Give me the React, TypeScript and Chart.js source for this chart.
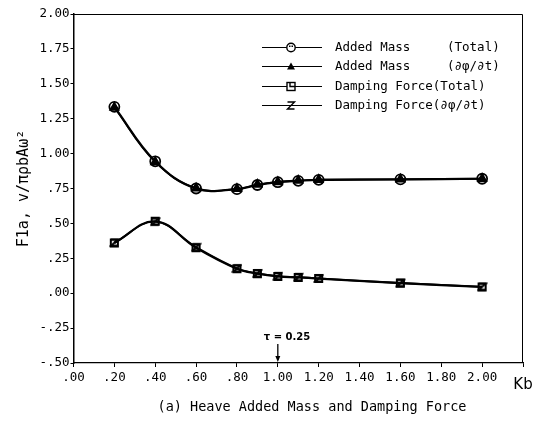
import React, { useEffect, useRef } from "react";
import { Chart, registerables } from "chart.js";

Chart.register(...registerables);

// Kb values (x)
const kb = [0.2, 0.4, 0.6, 0.8, 0.9, 1.0, 1.1, 1.2, 1.6, 2.0];
// Added mass
const addedMassTotal = [1.335, 0.945, 0.75, 0.745, 0.775, 0.795, 0.805, 0.812, 0.815, 0.82];
const addedMassDphi = [1.33, 0.94, 0.752, 0.748, 0.778, 0.797, 0.807, 0.813, 0.816, 0.82];
// Damping force
const dampingTotal = [0.36, 0.515, 0.325, 0.175, 0.14, 0.12, 0.113, 0.105, 0.072, 0.045];
const dampingDphi = [0.362, 0.512, 0.33, 0.178, 0.142, 0.122, 0.115, 0.106, 0.073, 0.046];

const legendLabels = [
  ["Added Mass", "(Total)"],
  ["Added Mass", "(∂φ/∂t)"],
  ["Damping Force(Total)", ""],
  ["Damping Force(∂φ/∂t)", ""],
];
const yTitle = "F1a, v/πρbAω²";
const xUnit = "Kb";
const caption = "(a) Heave Added Mass and Damping Force";
const tauText = "τ = 0.25";
const tauAt = 1.0;

function fmt(v: number): string {
  const s = Math.abs(v).toFixed(2).replace(/^0\./, ".");
  return (v < -1e-9 ? "-" : "") + s;
}

function makeZ(): HTMLCanvasElement {
  const c = document.createElement("canvas");
  c.width = 11;
  c.height = 11;
  const g = c.getContext("2d")!;
  g.strokeStyle = "#000";
  g.lineWidth = 2;
  g.beginPath();
  g.moveTo(2, 2.5);
  g.lineTo(9, 2.5);
  g.lineTo(2, 8.5);
  g.lineTo(9, 8.5);
  g.stroke();
  return c;
}

const MONO = "'DejaVu Sans Mono', monospace";

function drawMarker(ctx: CanvasRenderingContext2D, kind: number, x: number, y: number) {
  ctx.save();
  ctx.strokeStyle = "#000";
  ctx.fillStyle = "#000";
  ctx.lineWidth = 1.4;
  if (kind === 0) {
    ctx.beginPath();
    ctx.arc(x, y, 4.2, 0, Math.PI * 2);
    ctx.fillStyle = "#fff";
    ctx.fill();
    ctx.stroke();
    ctx.fillStyle = "#000";
    ctx.fillRect(x - 2, y - 2, 1.5, 1.5);
    ctx.fillRect(x + 0.5, y - 2, 1.5, 1.5);
  } else if (kind === 1) {
    ctx.beginPath();
    ctx.moveTo(x, y - 4);
    ctx.lineTo(x + 4, y + 3);
    ctx.lineTo(x - 4, y + 3);
    ctx.closePath();
    ctx.fill();
  } else if (kind === 2) {
    ctx.fillStyle = "#fff";
    ctx.fillRect(x - 4, y - 4, 8, 8);
    ctx.strokeRect(x - 4, y - 4, 8, 8);
    ctx.beginPath();
    ctx.moveTo(x - 1, y - 4);
    ctx.lineTo(x - 1, y);
    ctx.lineTo(x + 4, y);
    ctx.stroke();
  } else {
    ctx.beginPath();
    ctx.moveTo(x - 3.5, y - 3.5);
    ctx.lineTo(x + 3.5, y - 3.5);
    ctx.lineTo(x - 3.5, y + 3.5);
    ctx.lineTo(x + 3.5, y + 3.5);
    ctx.stroke();
  }
  ctx.restore();
}

const decorPlugin = {
  id: "decor",
  afterDraw(chart: any) {
    const ctx: CanvasRenderingContext2D = chart.ctx;
    const a = chart.chartArea;
    const xs = chart.scales.x;
    ctx.save();
    // frame
    ctx.strokeStyle = "#000";
    ctx.lineWidth = 1;
    ctx.beginPath();
    ctx.moveTo(a.left, a.top + 0.5);
    ctx.lineTo(a.right - 0.5, a.top + 0.5);
    ctx.lineTo(a.right - 0.5, a.bottom);
    ctx.stroke();

    // y title
    ctx.save();
    ctx.translate(24, (a.top + a.bottom) / 2);
    ctx.rotate(-Math.PI / 2);
    ctx.font = `15px ${MONO}`;
    ctx.fillStyle = "#000";
    ctx.textAlign = "center";
    ctx.textBaseline = "middle";
    ctx.fillText(yTitle, 0, 0);
    ctx.restore();

    // Kb unit at the end of x axis
    ctx.font = "15px 'DejaVu Sans', sans-serif";
    ctx.fillStyle = "#000";
    ctx.textAlign = "center";
    ctx.textBaseline = "middle";
    ctx.fillText(xUnit, xs.getPixelForValue(2.2), a.bottom + 22);

    // caption
    ctx.font = `13.5px ${MONO}`;
    ctx.textAlign = "center";
    ctx.fillText(caption, 312, 407);

    // tau annotation
    const tx = xs.getPixelForValue(tauAt);
    ctx.font = "bold 10px 'DejaVu Sans', sans-serif";
    ctx.textAlign = "left";
    ctx.fillText(tauText, tx - 14, a.bottom - 26);
    ctx.lineWidth = 1.3;
    ctx.beginPath();
    ctx.moveTo(tx, a.bottom - 19);
    ctx.lineTo(tx, a.bottom - 3);
    ctx.stroke();
    ctx.beginPath();
    ctx.moveTo(tx - 2.5, a.bottom - 7);
    ctx.lineTo(tx + 2.5, a.bottom - 7);
    ctx.lineTo(tx, a.bottom - 1);
    ctx.closePath();
    ctx.fill();

    // legend
    const rows = [47.5, 66.5, 86.5, 105.5];
    ctx.font = `12.5px ${MONO}`;
    ctx.textBaseline = "middle";
    rows.forEach((ry, i) => {
      ctx.strokeStyle = "#000";
      ctx.lineWidth = 1;
      ctx.beginPath();
      ctx.moveTo(262, ry);
      ctx.lineTo(322, ry);
      ctx.stroke();
      drawMarker(ctx, i, 291, ry);
      ctx.fillStyle = "#000";
      ctx.textAlign = "left";
      ctx.fillText(legendLabels[i][0], 335, ry);
      if (legendLabels[i][1]) ctx.fillText(legendLabels[i][1], 447, ry);
    });
    ctx.restore();
  },
};

export default function App() {
  const ref = useRef<HTMLCanvasElement | null>(null);
  useEffect(() => {
    if (!ref.current) return;
    const zImg = makeZ();
    const pts = (ys: number[]) => kb.map((x, i) => ({ x, y: ys[i] }));
    const chart = new Chart(ref.current, {
      type: "line",
      data: {
        datasets: [
          {
            label: "Added Mass (Total)",
            data: pts(addedMassTotal),
            borderColor: "#000",
            borderWidth: 2.2,
            tension: 0.4,
            pointStyle: "circle",
            pointRadius: 5,
            pointBackgroundColor: "rgba(0,0,0,0)",
            pointBorderColor: "#000",
            pointBorderWidth: 1.8,
          },
          {
            label: "Added Mass (∂φ/∂t)",
            data: pts(addedMassDphi),
            borderColor: "#000",
            borderWidth: 1.8,
            tension: 0.4,
            pointStyle: "triangle",
            pointRadius: 5,
            pointBackgroundColor: "#000",
            pointBorderColor: "#000",
            pointBorderWidth: 1.5,
          },
          {
            label: "Damping Force(Total)",
            data: pts(dampingTotal),
            borderColor: "#000",
            borderWidth: 2.2,
            tension: 0.4,
            pointStyle: "rect",
            pointRadius: 5,
            pointBackgroundColor: "rgba(0,0,0,0)",
            pointBorderColor: "#000",
            pointBorderWidth: 2,
          },
          {
            label: "Damping Force(∂φ/∂t)",
            data: pts(dampingDphi),
            borderColor: "#000",
            borderWidth: 1.8,
            tension: 0.4,
            pointStyle: zImg as any,
            pointRadius: 5,
          },
        ],
      },
      options: {
        animation: false,
        responsive: false,
        layout: { padding: { left: 0, top: 14, right: 18, bottom: 30 } },
        plugins: { legend: { display: false }, tooltip: { enabled: false } },
        scales: {
          x: {
            type: "linear",
            min: 0,
            max: 2.2,
            afterFit: (s: any) => {
              s.height = 30;
            },
            afterBuildTicks: (s: any) => {
              s.ticks = [0, 0.2, 0.4, 0.6, 0.8, 1.0, 1.2, 1.4, 1.6, 1.8, 2.0, 2.2].map((v) => ({ value: v }));
            },
            ticks: {
              autoSkip: false,
              maxRotation: 0,
              padding: 3,
              color: "#000",
              font: { family: "DejaVu Sans Mono", size: 12.5 },
              callback: (v: any) => (Number(v) > 2.1 ? "" : fmt(Number(v))),
            },
            grid: { drawOnChartArea: false, drawTicks: true, tickLength: 4, color: "#000" },
            border: { display: true, color: "#000", width: 1.2 },
          },
          y: {
            type: "linear",
            min: -0.5,
            max: 2.0,
            afterFit: (s: any) => {
              s.width = 73.5;
            },
            ticks: {
              stepSize: 0.25,
              padding: 1,
              color: "#000",
              font: { family: "DejaVu Sans Mono", size: 12.5 },
              callback: (v: any) => fmt(Number(v)),
            },
            grid: { drawOnChartArea: false, drawTicks: true, tickLength: 3, color: "#000" },
            border: { display: true, color: "#000", width: 1.5 },
          },
        },
      },
      plugins: [decorPlugin],
    });
    return () => chart.destroy();
  }, []);
  return (
    <div style={{ position: "fixed", left: 0, top: 0, width: 541, height: 423, background: "#fff" }}>
      <canvas ref={ref} width={541} height={423} style={{ display: "block" }} />
    </div>
  );
}
